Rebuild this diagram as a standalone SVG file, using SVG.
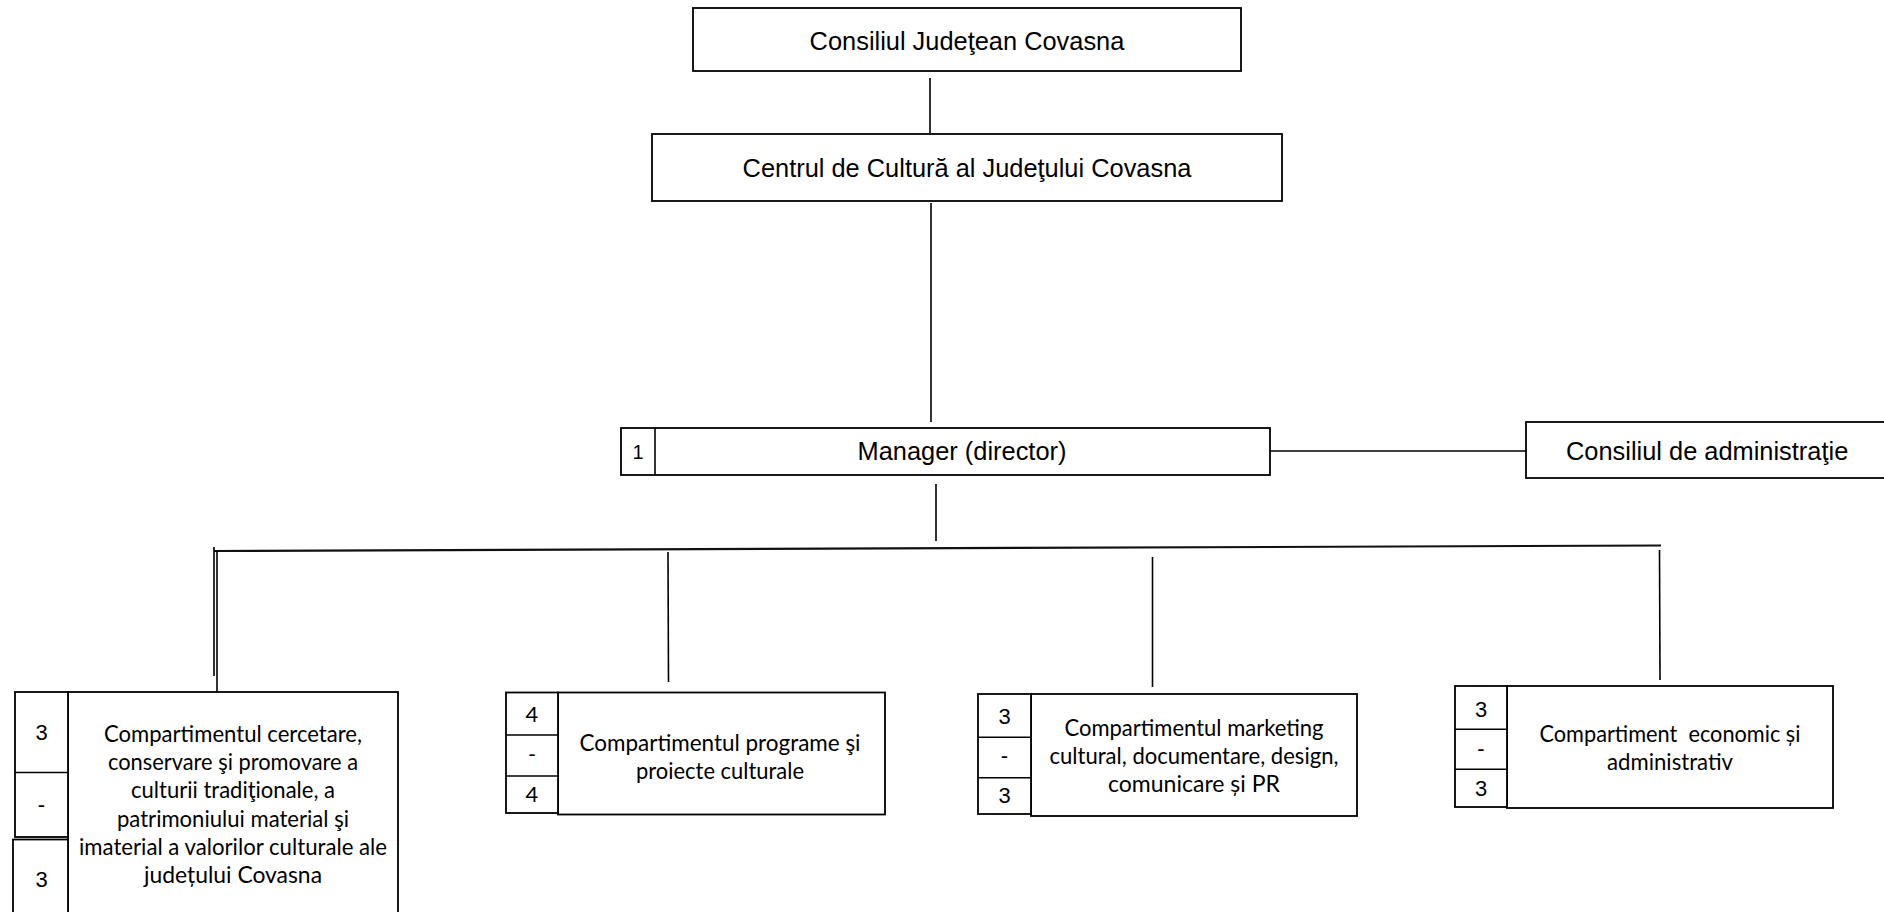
<svg xmlns="http://www.w3.org/2000/svg" width="1884" height="912" viewBox="0 0 1884 912">
<style>
.box{fill:#fff;stroke:#000;stroke-width:1.8}
.ln{stroke:#000;stroke-width:1.6;fill:none}
.bus{stroke:#111;stroke-width:2.2;fill:none}
.t1{font-family:"Liberation Sans",Arial,sans-serif;font-size:25.4px;text-anchor:middle;fill:#000}
.t2{font-family:Lato,"Noto Sans",sans-serif;font-size:23px;text-anchor:middle;fill:#000}
.num{font-family:"Liberation Sans",Arial,sans-serif;font-size:22px;text-anchor:middle;fill:#000}
.numc{font-family:Lato,"Noto Sans",sans-serif;font-size:22px;text-anchor:middle;fill:#000}
</style>
<rect width="1884" height="912" fill="#fff"/>
<g id="connectors">
<line class="ln" x1="930" y1="78" x2="930" y2="133"/>
<line class="ln" x1="931" y1="203" x2="931" y2="422"/>
<line class="ln" x1="936" y1="484" x2="936" y2="541"/>
<line class="ln" x1="1270" y1="451" x2="1526" y2="451"/>
<line class="bus" x1="214" y1="551" x2="1661" y2="545.5"/>
<line class="ln" x1="214" y1="547" x2="214" y2="676"/>
<line class="ln" x1="217" y1="551" x2="217" y2="695"/>
<line class="ln" x1="668" y1="552" x2="668.5" y2="682"/>
<line class="ln" x1="1152.5" y1="557" x2="1152.5" y2="687"/>
<line class="ln" x1="1659.5" y1="550" x2="1660" y2="680"/>
</g>
<g id="n-consiliul-judetean">
<rect class="box" x="693" y="8" width="548" height="63"/>
<text class="t1" x="967" y="50">Consiliul Judeţean Covasna</text>
</g>
<g id="n-centrul">
<rect class="box" x="652" y="134" width="630" height="67"/>
<text class="t1" x="967" y="177">Centrul de Cultură al Judeţului Covasna</text>
</g>
<g id="n-manager">
<rect class="box" x="621" y="428" width="649" height="47"/>
<line class="ln" x1="655" y1="428" x2="655" y2="475"/>
<text class="num" x="638" y="459" style="font-size:20px">1</text>
<text class="t1" x="962" y="460">Manager (director)</text>
</g>
<g id="n-consiliul-admin">
<rect class="box" x="1526" y="422" width="370" height="56"/>
<text class="t1" x="1566" y="460" style="text-anchor:start">Consiliul de administraţie</text>
</g>
<g id="n-cercetare">
<rect class="box" x="68" y="692" width="330" height="232"/>
<rect class="box" x="15" y="692" width="53" height="145"/>
<line class="ln" x1="15" y1="772.5" x2="68" y2="772.5"/>
<rect class="box" x="13" y="839.5" width="55" height="85"/>
<text class="num" x="41.5" y="740">3</text>
<text class="num" x="41.5" y="812">-</text>
<text class="num" x="41.5" y="887">3</text>
<text class="t2" x="233" y="742" textLength="258" lengthAdjust="spacingAndGlyphs">Compartimentul cercetare,</text>
<text class="t2" x="233" y="770.2" textLength="250" lengthAdjust="spacingAndGlyphs">conservare şi promovare a</text>
<text class="t2" x="233" y="798.4" textLength="204" lengthAdjust="spacingAndGlyphs">culturii tradiţionale, a</text>
<text class="t2" x="233" y="826.6" textLength="232" lengthAdjust="spacingAndGlyphs">patrimoniului material şi</text>
<text class="t2" x="233" y="854.8" textLength="308" lengthAdjust="spacingAndGlyphs">imaterial a valorilor culturale ale</text>
<text class="t2" x="233" y="883" textLength="178" lengthAdjust="spacingAndGlyphs">județului Covasna</text>
</g>
<g id="n-programe">
<rect class="box" x="558" y="692.5" width="327" height="122"/>
<rect class="box" x="506" y="692.5" width="52" height="120.5"/>
<line class="ln" x1="506" y1="735" x2="558" y2="735"/>
<line class="ln" x1="506" y1="776" x2="558" y2="776"/>
<text class="numc" x="532" y="722">4</text>
<text class="numc" x="532" y="762">-</text>
<text class="numc" x="532" y="802">4</text>
<text class="t2" x="720" y="751" textLength="281" lengthAdjust="spacingAndGlyphs">Compartimentul programe şi</text>
<text class="t2" x="720" y="779" textLength="168" lengthAdjust="spacingAndGlyphs">proiecte culturale</text>
</g>
<g id="n-marketing">
<rect class="box" x="1031" y="694" width="326" height="122"/>
<rect class="box" x="978" y="694" width="53" height="120"/>
<line class="ln" x1="978" y1="737.3" x2="1031" y2="737.3"/>
<line class="ln" x1="978" y1="777.7" x2="1031" y2="777.7"/>
<text class="num" x="1004.5" y="724">3</text>
<text class="num" x="1004.5" y="763">-</text>
<text class="num" x="1004.5" y="803">3</text>
<text class="t2" x="1194" y="736" textLength="259" lengthAdjust="spacingAndGlyphs">Compartimentul marketing</text>
<text class="t2" x="1194" y="764" textLength="289" lengthAdjust="spacingAndGlyphs">cultural, documentare, design,</text>
<text class="t2" x="1194" y="792" textLength="172" lengthAdjust="spacingAndGlyphs">comunicare și PR</text>
</g>
<g id="n-economic">
<rect class="box" x="1507" y="686" width="326" height="122"/>
<rect class="box" x="1455" y="686" width="52" height="121"/>
<line class="ln" x1="1455" y1="729.3" x2="1507" y2="729.3"/>
<line class="ln" x1="1455" y1="769.3" x2="1507" y2="769.3"/>
<text class="num" x="1481" y="717">3</text>
<text class="num" x="1481" y="756">-</text>
<text class="num" x="1481" y="796">3</text>
<text class="t2" x="1670" y="742" textLength="261" lengthAdjust="spacingAndGlyphs" style="white-space:pre">Compartiment  economic și</text>
<text class="t2" x="1670" y="770" textLength="126" lengthAdjust="spacingAndGlyphs">administrativ</text>
</g>
</svg>
